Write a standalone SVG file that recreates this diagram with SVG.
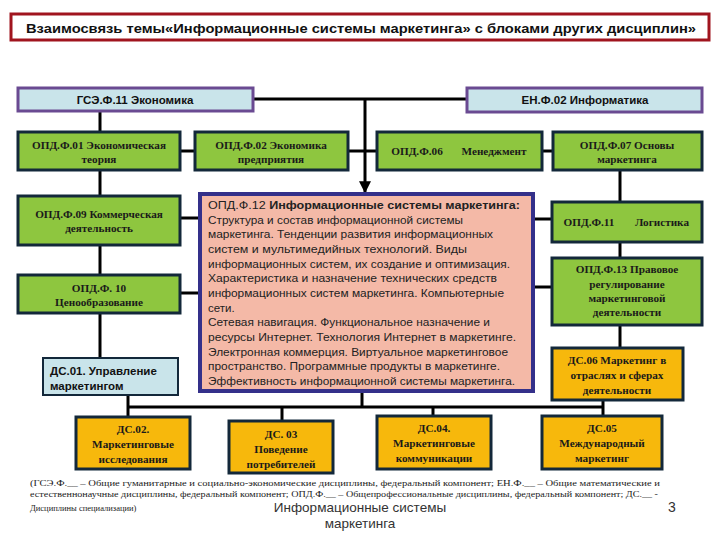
<svg xmlns="http://www.w3.org/2000/svg" width="720" height="540" viewBox="0 0 720 540">
<style>
.g{fill:#8ec63f;stroke:#13283a;stroke-width:3}
.o{fill:#f7b80c;stroke:#13283a;stroke-width:3}
.lb{fill:#c9e4ea;stroke:#6a4a92;stroke-width:3}
.lb2{fill:#c9e4ea;stroke:#13283a;stroke-width:2}
.st{font-family:"Liberation Serif","Times New Roman",serif;font-weight:bold;font-size:11.2px;fill:#1a1a1a;text-anchor:middle}
.ss{font-family:"Liberation Sans",Arial,sans-serif;font-weight:bold;font-size:11.5px;fill:#111}
.ct{font-family:"Liberation Sans",Arial,sans-serif;font-size:11.5px;fill:#222}
.ft{font-family:"Liberation Serif","Times New Roman",serif;font-size:8.5px;fill:#222}
.cn{stroke:#000;stroke-width:3;fill:none}
</style>
<defs>
<marker id="ah" viewBox="0 0 10 10" refX="9" refY="5" markerWidth="4" markerHeight="4" orient="auto" markerUnits="strokeWidth"><path d="M0,0 L10,5 L0,10 z" fill="#000"/></marker>
</defs>
<rect width="720" height="540" fill="#fff"/>
<g id="title">
<rect x="11" y="14" width="698" height="26" fill="#fff" stroke="#a0141e" stroke-width="3"/>
<text x="361" y="33" text-anchor="middle" font-family="Liberation Sans,Arial,sans-serif" font-weight="bold" font-size="13.5" fill="#111" textLength="670" lengthAdjust="spacingAndGlyphs">Взаимосвязь темы«Информационные системы маркетинга» с блоками других дисциплин»</text>
</g>
<g id="connectors">
<line class="cn" x1="253" y1="99" x2="467" y2="99"/>
<line class="cn" x1="365" y1="99" x2="365" y2="192" marker-end="url(#ah)"/>
<line class="cn" x1="180" y1="151" x2="195" y2="151"/>
<line class="cn" x1="348" y1="151" x2="377" y2="151"/>
<line class="cn" x1="542" y1="151" x2="553" y2="151"/>
<line class="cn" x1="100" y1="111" x2="100" y2="132"/>
<line class="cn" x1="100" y1="170" x2="100" y2="196"/>
<line class="cn" x1="100" y1="245" x2="100" y2="275"/>
<line class="cn" x1="100" y1="313" x2="100" y2="358"/>
<line class="cn" x1="180" y1="218" x2="200" y2="218"/>
<line class="cn" x1="180" y1="293" x2="200" y2="293"/>
<line class="cn" x1="533" y1="219" x2="552" y2="219"/>
<line class="cn" x1="533" y1="287" x2="552" y2="287"/>
<line class="cn" x1="620" y1="170" x2="620" y2="202"/>
<line class="cn" x1="620" y1="242" x2="620" y2="258"/>
<line class="cn" x1="620" y1="325" x2="620" y2="348"/>
<line class="cn" x1="128" y1="395" x2="128" y2="417"/>
<line class="cn" x1="128" y1="407" x2="603" y2="407"/>
<line class="cn" x1="362" y1="392" x2="362" y2="407"/>
<line class="cn" x1="282" y1="407" x2="282" y2="421"/>
<line class="cn" x1="433" y1="407" x2="433" y2="416"/>
<line class="cn" x1="603" y1="400" x2="603" y2="416"/>
</g>
<g id="gse11">
<rect class="lb" x="18" y="88" width="235" height="23"/>
<text class="ss" x="135" y="104" text-anchor="middle" font-size="11">ГСЭ.Ф.11 Экономика</text>
</g>
<g id="en02">
<rect class="lb" x="467" y="88" width="235" height="24"/>
<text class="ss" x="585" y="104" text-anchor="middle" font-size="11">ЕН.Ф.02 Информатика</text>
</g>
<g id="opd01">
<rect class="g" x="18" y="132" width="162" height="38"/>
<text class="st" x="99" y="149">ОПД.Ф.01 Экономическая</text>
<text class="st" x="99" y="163">теория</text>
</g>
<g id="opd02">
<rect class="g" x="195" y="132" width="153" height="38"/>
<text class="st" x="271" y="149">ОПД.Ф.02 Экономика</text>
<text class="st" x="271" y="163">предприятия</text>
</g>
<g id="opd06">
<rect class="g" x="377" y="132" width="165" height="38"/>
<text class="st" x="417" y="155">ОПД.Ф.06</text>
<text class="st" x="494" y="155">Менеджмент</text>
</g>
<g id="opd07">
<rect class="g" x="553" y="132" width="149" height="38"/>
<text class="st" x="627" y="149">ОПД.Ф.07 Основы</text>
<text class="st" x="627" y="163">маркетинга</text>
</g>
<g id="opd09">
<rect class="g" x="18" y="196" width="162" height="49"/>
<text class="st" x="99" y="218">ОПД.Ф.09 Коммерческая</text>
<text class="st" x="99" y="232">деятельность</text>
</g>
<g id="opd10">
<rect class="g" x="18" y="275" width="162" height="38"/>
<text class="st" x="99" y="292">ОПД.Ф. 10</text>
<text class="st" x="99" y="306">Ценообразование</text>
</g>
<g id="ds01">
<rect class="lb2" x="43" y="358" width="135" height="37"/>
<text class="ss" x="50" y="375" font-size="12.5">ДС.01. Управление</text>
<text class="ss" x="50" y="390" font-size="12.5">маркетингом</text>
</g>
<g id="opd12">
<rect x="200" y="194" width="333" height="197" fill="#f4b9a7" stroke="#34308a" stroke-width="4"/>
<text class="ct" x="208" y="209" textLength="312" lengthAdjust="spacingAndGlyphs">ОПД.Ф.12 <tspan font-weight="bold">Информационные системы маркетинга:</tspan></text>
<text class="ct" x="208" y="224" textLength="255" lengthAdjust="spacingAndGlyphs">Структура и состав информационной системы</text>
<text class="ct" x="208" y="238" textLength="285" lengthAdjust="spacingAndGlyphs">маркетинга. Тенденции развития информационных</text>
<text class="ct" x="208" y="253" textLength="259" lengthAdjust="spacingAndGlyphs">систем и мультимедийных технологий. Виды</text>
<text class="ct" x="208" y="268" textLength="302" lengthAdjust="spacingAndGlyphs">информационных систем, их создание и оптимизация.</text>
<text class="ct" x="208" y="282" textLength="289" lengthAdjust="spacingAndGlyphs">Характеристика и  назначение технических средств</text>
<text class="ct" x="208" y="297" textLength="296" lengthAdjust="spacingAndGlyphs">информационных систем маркетинга. Компьютерные</text>
<text class="ct" x="208" y="312">сети.</text>
<text class="ct" x="208" y="326" textLength="282" lengthAdjust="spacingAndGlyphs">Сетевая навигация. Функциональное назначение и</text>
<text class="ct" x="208" y="341" textLength="308" lengthAdjust="spacingAndGlyphs">ресурсы Интернет. Технология Интернет в маркетинге.</text>
<text class="ct" x="208" y="356" textLength="300" lengthAdjust="spacingAndGlyphs">Электронная коммерция. Виртуальное маркетинговое</text>
<text class="ct" x="208" y="370" textLength="292" lengthAdjust="spacingAndGlyphs">пространство. Программные продукты в маркетинге.</text>
<text class="ct" x="208" y="385" textLength="307" lengthAdjust="spacingAndGlyphs">Эффективность информационной системы маркетинга.</text>
</g>
<g id="opd11">
<rect class="g" x="552" y="202" width="150" height="40"/>
<text class="st" x="589" y="226">ОПД.Ф.11</text>
<text class="st" x="662" y="226">Логистика</text>
</g>
<g id="opd13">
<rect class="g" x="552" y="258" width="150" height="67"/>
<text class="st" x="627" y="273">ОПД.Ф.13 Правовое</text>
<text class="st" x="627" y="288">регулирование</text>
<text class="st" x="627" y="302">маркетинговой</text>
<text class="st" x="627" y="316">деятельности</text>
</g>
<g id="ds06">
<rect class="o" x="552" y="348" width="131" height="52"/>
<text class="st" x="617" y="364">ДС.06 Маркетинг в</text>
<text class="st" x="617" y="379">отраслях и сферах</text>
<text class="st" x="617" y="394">деятельности</text>
</g>
<g id="ds02">
<rect class="o" x="76" y="417" width="114" height="52"/>
<text class="st" x="133" y="433">ДС.02.</text>
<text class="st" x="133" y="448">Маркетинговые</text>
<text class="st" x="133" y="463">исследования</text>
</g>
<g id="ds03">
<rect class="o" x="229" y="421" width="104" height="52"/>
<text class="st" x="281" y="438">ДС. 03</text>
<text class="st" x="281" y="453">Поведение</text>
<text class="st" x="281" y="468">потребителей</text>
</g>
<g id="ds04">
<rect class="o" x="377" y="416" width="114" height="53"/>
<text class="st" x="434" y="432">ДС.04.</text>
<text class="st" x="434" y="447">Маркетинговые</text>
<text class="st" x="434" y="462">коммуникации</text>
</g>
<g id="ds05">
<rect class="o" x="542" y="416" width="120" height="53"/>
<text class="st" x="602" y="432">ДС.05</text>
<text class="st" x="602" y="447">Международный</text>
<text class="st" x="602" y="462">маркетинг</text>
</g>
<g id="footer">
<text class="ft" x="30" y="486" textLength="630" lengthAdjust="spacingAndGlyphs">(ГСЭ.Ф.__ – Общие гуманитарные и социально-экономические дисциплины, федеральный компонент;  ЕН.Ф.__ – Общие математические и</text>
<text class="ft" x="30" y="497" textLength="628" lengthAdjust="spacingAndGlyphs">естественнонаучные дисциплины, федеральный компонент;  ОПД.Ф.__ – Общепрофессиональные дисциплины, федеральный компонент;  ДС.__ -</text>
<text class="ft" x="30" y="511">Дисциплины специализации)</text>
<text x="360" y="512" text-anchor="middle" font-family="Liberation Sans,Arial,sans-serif" font-size="13.5" fill="#333">Информационные системы</text>
<text x="360" y="528" text-anchor="middle" font-family="Liberation Sans,Arial,sans-serif" font-size="13.5" fill="#333">маркетинга</text>
<text x="672" y="512" text-anchor="middle" font-family="Liberation Sans,Arial,sans-serif" font-size="14" fill="#333">3</text>
</g>
</svg>
